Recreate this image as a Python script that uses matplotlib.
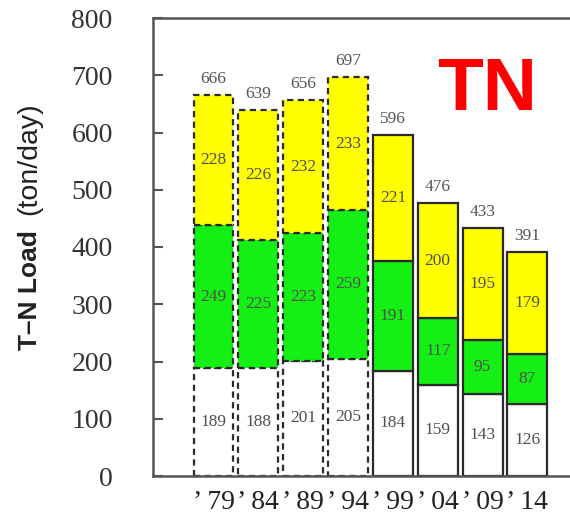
import matplotlib
matplotlib.use("Agg")
import matplotlib.pyplot as plt
import numpy as np

years = ["’ 79", "’ 84", "’ 89", "’ 94", "’ 99", "’ 04", "’ 09", "’ 14"]
base_load = [189, 188, 201, 205, 184, 159, 143, 126]
mid_load = [249, 225, 223, 259, 191, 117, 95, 87]
top_load = [228, 226, 232, 233, 221, 200, 195, 179]
totals = [666, 639, 656, 697, 596, 476, 433, 391]
estimated = [True, True, True, True, False, False, False, False]

serif = ["Liberation Serif", "DejaVu Serif"]
sans = ["Liberation Sans", "DejaVu Sans"]
fig = plt.figure(figsize=(5.7, 5.15), dpi=100)
ax = fig.add_axes([153 / 570, 39 / 515, 1 - 153 / 570, 458 / 515])

x = np.arange(len(years))
width = 0.89
colors = ["#ffffff", "#14f014", "#ffff00"]
edge = "#2a2a2a"
bottoms = np.zeros(len(years))
for layer, col in zip([base_load, mid_load, top_load], colors):
    vals = np.array(layer, dtype=float)
    for i in range(len(years)):
        ls = (0, (2.8, 2.0)) if estimated[i] else "-"
        ax.bar(x[i], vals[i], width=width, bottom=bottoms[i], color=col,
               edgecolor=edge, linewidth=1.6, linestyle=ls, zorder=2)
        ax.text(x[i], bottoms[i] + vals[i] / 2, f"{int(vals[i])}",
                ha="center", va="center", fontsize=12.5, family=serif,
                color="#505050", zorder=3)
    bottoms += vals

for i, t in enumerate(totals):
    ax.text(x[i], bottoms[i] + 14, f"{t}", ha="center", va="bottom",
            fontsize=12.5, family=serif, color="#555555")

ax.set_xlim(-1.35, 7.95)
ax.set_ylim(0, 800)
ax.set_yticks(range(0, 801, 100))
ax.set_xticks(x)
ax.set_xticklabels(years, family=serif, fontsize=20, color="#222222")
for lab in ax.get_yticklabels():
    lab.set_family(serif)
    lab.set_fontsize(20)
    lab.set_color("#333333")
ax.tick_params(axis="y", direction="in", length=7, width=1.5, color="#555555", pad=29)
ax.tick_params(axis="x", length=0, pad=10)
ax.spines["right"].set_visible(False)
for s in ["left", "bottom", "top"]:
    ax.spines[s].set_color("#555555")
    ax.spines[s].set_linewidth(1.8)

# axis title: bold quantity name, then the unit in regular weight on the same baseline
fig.text(37 / 570, 1 - 350 / 515, "T–N Load", rotation=90, rotation_mode="anchor",
         ha="left", va="baseline", fontsize=19, fontweight="bold",
         family=sans, color="#222222")
fig.text(36 / 570, 1 - 102 / 515, "(ton/day)", rotation=90, rotation_mode="anchor",
         ha="right", va="baseline", fontsize=20.5, family=sans, color="#222222")

fig.text(487 / 570, 1 - 90 / 515, "TN", ha="center", va="center", fontsize=54,
         fontweight="bold", family=sans, color="#ff0000")

fig.savefig("out.png", dpi=100, facecolor="white")
